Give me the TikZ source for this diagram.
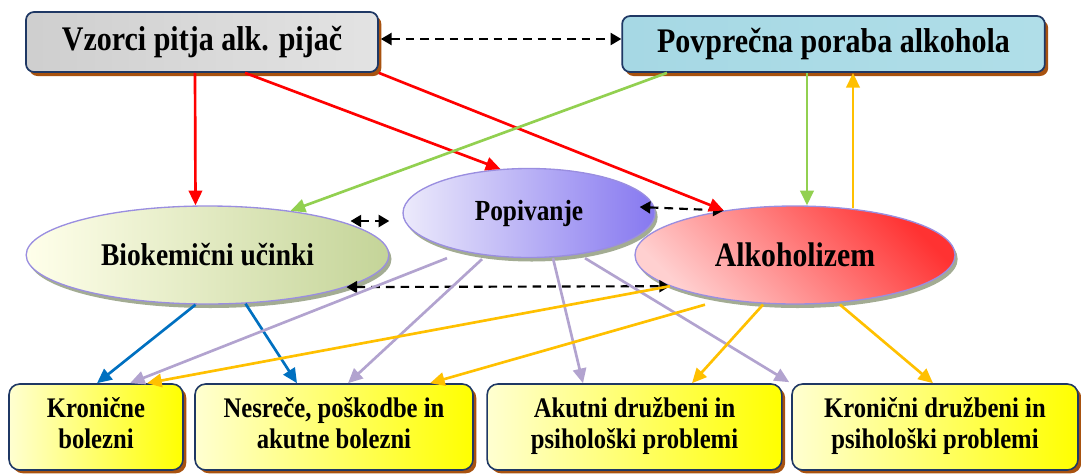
\documentclass[tikz,border=0pt]{standalone}
\usepackage{fontspec}
\setmainfont{Liberation Serif}
\usetikzlibrary{arrows.meta,shapes.geometric,shadows,calc}
\definecolor{navy}{HTML}{1F3864}
\definecolor{boxshadow}{HTML}{A8520F}
\definecolor{ellshadow}{HTML}{A3AC93}
\definecolor{ellborder}{HTML}{9A8EE0}
\definecolor{arrred}{HTML}{FF0000}
\definecolor{arrgreen}{HTML}{92D050}
\definecolor{arrorange}{HTML}{FFC000}
\definecolor{arrblue}{HTML}{0070C0}
\definecolor{arrlav}{HTML}{B2A3CF}
\definecolor{cyanL}{HTML}{A6D8E4}
\definecolor{cyanM}{HTML}{C8EBF2}
\definecolor{cyanR}{HTML}{B0DEE8}
\newcommand{\tall}[1]{\scalebox{1}[1.15]{#1}}
\newcommand{\twolines}[2]{\begin{tabular}{@{}c@{}}\tall{#1}\\[2pt]\tall{#2}\end{tabular}}
\begin{document}
\begin{tikzpicture}[x=0.75pt,y=-0.75pt,
  topbox/.style={draw=navy, line width=1.3pt, rounded corners=6pt, inner sep=0pt,
    drop shadow={shadow xshift=2.5pt, shadow yshift=-3pt, fill=boxshadow, opacity=1},
    font=\bfseries\fontsize{22.5}{26}\selectfont},
  botbox/.style={draw=navy, line width=1.2pt, rounded corners=8pt, inner sep=0pt,
    minimum height=64.5pt,
    left color=yellow!18, middle color=yellow!45, right color=yellow,
    drop shadow={shadow xshift=2.5pt, shadow yshift=-2.5pt, fill=boxshadow, opacity=1},
    font=\bfseries\fontsize{18.5}{20}\selectfont},
  ell/.style={ellipse, draw=ellborder, line width=1pt, inner sep=0pt,
    drop shadow={shadow xshift=2pt, shadow yshift=-3pt, fill=ellshadow, opacity=1}},
  arr/.style={-{Triangle[length=11pt,width=10pt]}, line width=2pt},
  dbl/.style={{Triangle[length=8pt,width=9pt]}-{Triangle[length=8pt,width=9pt]},
    line width=1.6pt, dash pattern=on 6.5pt off 4.5pt, black}]
\useasboundingbox (0,0) rectangle (1081,475);

% top boxes
\node[topbox, minimum width=264pt, minimum height=45pt,
  left color=gray!38, middle color=gray!4, right color=gray!22] (vz) at (202,42) {\tall{Vzorci pitja alk. pijač}};
\node[topbox, minimum width=317pt, minimum height=42pt,
  left color=cyanL, middle color=cyanM, right color=cyanR] (pp) at (833.5,44) {\tall{Povprečna poraba alkohola}};

% ellipses
\node[ell, minimum width=272pt, minimum height=73.5pt,
  left color=yellow!8!white, right color={rgb,255:red,196;green,212;blue,152},
  font=\bfseries\fontsize{20.6}{24}\selectfont] (bio) at (207.5,255) {\tall{Biokemični učinki}};
\node[ell, minimum width=189pt, minimum height=66.75pt,
  left color={rgb,255:red,236;green,234;blue,251}, right color={rgb,255:red,134;green,120;blue,240},
  font=\bfseries\fontsize{19}{22}\selectfont] (pop) at (529,213) {\tall{Popivanje}};
\node[ell, minimum width=240pt, minimum height=73.5pt,
  top color={rgb,255:red,255;green,208;blue,208}, bottom color={rgb,255:red,255;green,50;blue,50}, shading angle=135,
  font=\bfseries\fontsize{22.3}{26}\selectfont] (alk) at (795,255) {\tall{Alkoholizem}};

% bottom boxes
\node[botbox, minimum width=130.5pt] (ka) at (96,427) {\twolines{Kronične}{bolezni}};
\node[botbox, minimum width=208.5pt] (kb) at (334,427) {\twolines{Nesreče, poškodbe in}{akutne bolezni}};
\node[botbox, minimum width=221pt] (kc) at (634.5,427) {\twolines{Akutni družbeni in}{psihološki problemi}};
\node[botbox, minimum width=214.5pt] (kd) at (935,427) {\twolines{Kronični družbeni in}{psihološki problemi}};

% dashed double arrows
\draw[dbl] ($(vz.east)+(2,-3)$) -- ($(pp.west)+(0,-5)$);
\draw[dbl] ($(bio.east)+(-39,-34)$) -- ($(pop.west)+(-13,8)$);
\draw[dbl] ($(pop.east)+(-16,-6)$) -- (alk.148);
\draw[dbl] (bio.-13) -- (alk.194);

% red
\draw[arr, arrred] ($(vz.south)+(-7,0)$) -- ($(bio.north)+(-12,0)$);
\draw[arr, arrred] ($(vz.south)+(43,0)$) -- (pop.123);
\draw[arr, arrred] (vz.south east) -- (alk.148);

% green
\draw[arr, arrgreen] ($(pp.south)+(-166.5,0)$) -- (bio.28);
\draw[arr, arrgreen] ($(pp.south)+(-26.5,0)$) -- ($(alk.north)+(12,0)$);

% orange up
\draw[arr, arrorange] ($(alk.north)+(58,3)$) -- ($(pp.south)+(19.5,0)$);

% blue
\draw[arr, arrblue] ($(bio.south)+(-12,0)$) -- ($(ka.north)+(1,0)$);
\draw[arr, arrblue] ($(bio.south)+(38,-1)$) -- ($(kb.north)+(-37,0)$);

% lavender
\draw[arr, arrlav] ($(pop.south)+(-82,0)$) -- ($(ka.north)+(34,0)$);
\draw[arr, arrlav] ($(pop.south)+(-47,1)$) -- ($(kb.north)+(14,0)$);
\draw[arr, arrlav] ($(pop.south)+(24,0)$) -- ($(kc.north)+(-51.5,0)$);
\draw[arr, arrlav] ($(pop.south)+(56,0)$) -- ($(kd.north west)+(-2,-1)$);

% orange down
\draw[arr, arrorange] (alk.194) -- ($(ka.north)+(51,0)$);
\draw[arr, arrorange] ($(alk.south)+(-90,0)$) -- ($(kb.north)+(96,0)$);
\draw[arr, arrorange] ($(alk.south)+(-32,0)$) -- ($(kc.north)+(57.5,0)$);
\draw[arr, arrorange] ($(alk.south)+(45,0)$) -- ($(kd.north)+(-2,0)$);
\end{tikzpicture}
\end{document}
